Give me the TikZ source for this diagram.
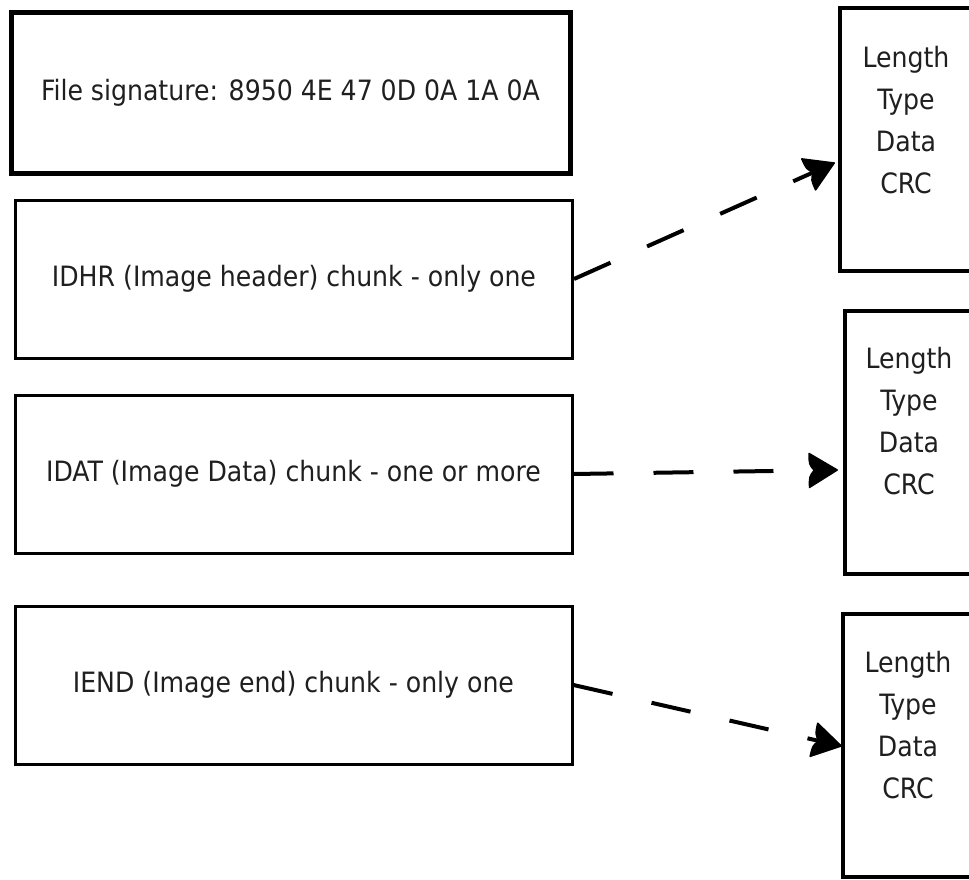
\documentclass[tikz,border=0pt]{standalone}
\usepackage{fontspec}
\setmainfont{DejaVu Sans Condensed}
\usetikzlibrary{arrows.meta}

\begin{document}
\begin{tikzpicture}[x=1pt,y=-1pt,
  chunk/.style={draw, line width=3pt, minimum width=557pt, minimum height=158pt,
    inner sep=0pt, text=black!88, font=\fontsize{28}{42}\selectfont},
  fields/.style={draw, line width=3.5pt, minimum width=132pt, minimum height=263pt, inner sep=0pt},
  fieldtext/.style={align=center, inner sep=0pt, text=black!88, font=\fontsize{28}{42}\selectfont},
  link/.style={line width=4pt, dash pattern=on 40pt off 40pt, shorten >=22pt},
  headopts/.style={pos=1, sloped, allow upside down, solid, shorten >=0pt, line width=1.5pt},
  headshape/.pic={\filldraw[line join=round] (0,0) -- (-28,-17) .. controls (-28,-6) .. (-23,0)
                   .. controls (-28,6) .. (-28,17) -- cycle;}]
\useasboundingbox (0,0) rectangle (969,880);

% chunk sequence of the file
\node[chunk, line width=5pt, minimum width=559pt, minimum height=160pt] (sig) at (290.5,93)
  {File signature: 8950 4E 47 0D 0A 1A 0A};
\node[chunk] (idhr) at (294,279) {IDHR (Image header) chunk - only one};
\node[chunk] (idat) at (293.5,474) {IDAT (Image Data) chunk - one or more};
\node[chunk] (iend) at (293.5,685) {IEND (Image end) chunk - only one};

% layout of a single chunk
\begin{scope}
\clip (0,0) rectangle (969,880);
\node[fields] (r1) at (906,139.5) {};
\node[fields] (r2) at (911,442.5) {};
\node[fields] (r3) at (909,745.5) {};
\end{scope}
\node[fieldtext] (t1) at (906,120) {Length\\Type\\Data\\CRC};
\node[fieldtext] (t2) at (909,421) {Length\\Type\\Data\\CRC};
\node[fieldtext] (t3) at (908,725) {Length\\Type\\Data\\CRC};

% arrow tips just left of the chunk layouts
\coordinate (p1) at ([xshift=-4pt]r1.west |- 0,163);
\coordinate (p2) at ([xshift=-6pt]r2.west |- 0,470);
\coordinate (p3) at (r3.west |- 0,746);

% dashed shafts with filled heads
\draw[link] (idhr.east) -- (p1) pic[headopts] {headshape};
\draw[link] (idat.east) -- (p2) pic[headopts] {headshape};
\draw[link] (iend.east) -- (p3) pic[headopts] {headshape};
\end{tikzpicture}
\end{document}
